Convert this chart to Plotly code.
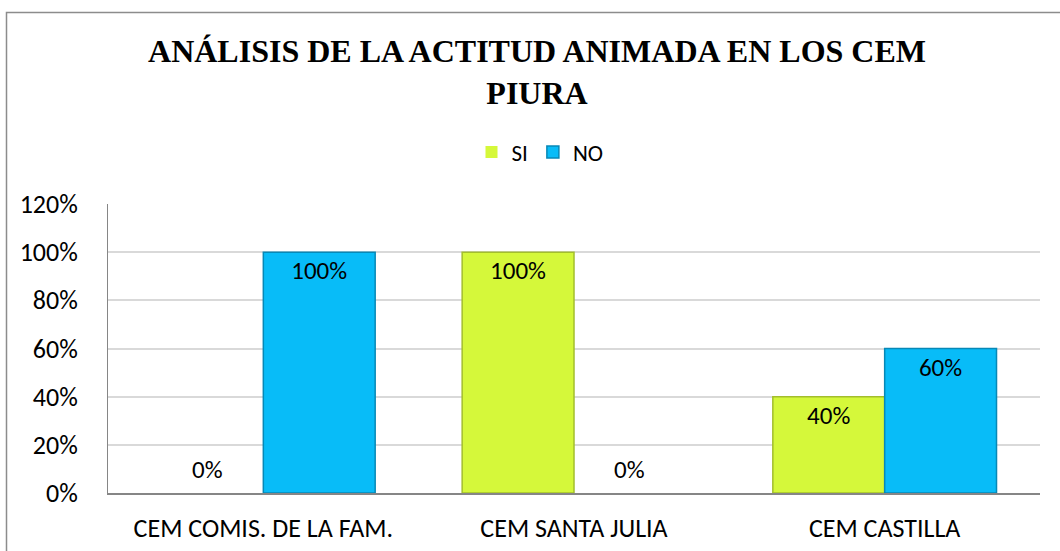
import plotly.graph_objects as go

categories = ["CEM COMIS. DE LA FAM.", "CEM SANTA JULIA", "CEM CASTILLA"]
si_values = [0.0, 1.0, 0.4]
no_values = [1.0, 0.0, 0.6]
tick_vals = [0, 0.2, 0.4, 0.6, 0.8, 1.0, 1.2]
tick_text = ["0%", "20%", "40%", "60%", "80%", "100%", "120%"]

W, H = 1060, 551
L, R, T, B = 108, 20, 204, 58
BODY_FONT = "Carlito, Calibri, Open Sans, Liberation Sans, sans-serif"
BARGAP = 0.28

def labels(vals):
    return [f"{round(v*100)}%" if v != 0 else "" for v in vals]

fig = go.Figure()
series = [
    ("SI", si_values, "#D5F83A", "#A3BE2C", -1),
    ("NO", no_values, "#08BCF8", "#0788B6", 1),
]
for name, vals, color, edge, side in series:
    fig.add_trace(go.Bar(
        name=name, x=categories, y=vals,
        text=labels(vals), textposition="inside",
        insidetextanchor="end",
        marker=dict(color=color,
                    line=dict(color=edge, width=[0 if v == 0 else 1.5 for v in vals])),
    ))

fig.update_traces(
    textfont=dict(family=BODY_FONT, size=25, color="#000000"),
    cliponaxis=False,
)

pw = W - L - R
ph = H - T - B
group_px = pw / len(categories)
half_bar_px = group_px * (1 - BARGAP) / 4

# zero-value labels
for name, vals, color, edge, side in series:
    for c, v in zip(categories, vals):
        if v == 0:
            fig.add_annotation(
                x=c, y=v, xref="x", yref="y", text=f"{round(v*100)}%",
                showarrow=False, xshift=side * half_bar_px, yshift=6,
                yanchor="bottom", font=dict(family=BODY_FONT, size=25, color="#000000"),
            )

fig.add_shape(
    type="rect", xref="paper", yref="paper",
    x0=(6.5 - L) / pw, x1=(W + 10 - L) / pw,
    y0=-(H + 10 - (H - B)) / ph, y1=(H - B - 12.5) / ph,
    line=dict(color="#8c8c8c", width=1.5), fillcolor="rgba(0,0,0,0)", layer="below",
)

fig.update_layout(
    width=W, height=H,
    margin=dict(l=L, r=R, t=T, b=B, autoexpand=False),
    paper_bgcolor="#ffffff", plot_bgcolor="#ffffff",
    barmode="group", bargap=BARGAP, bargroupgap=0,
    title=dict(
        text="<b>ANÁLISIS DE LA ACTITUD ANIMADA EN LOS CEM<br>PIURA</b>",
        font=dict(family="Liberation Serif, Times New Roman, serif", size=32, color="#000000"),
        xref="container", yref="container", x=537 / W, y=1 - 62 / H,
        xanchor="center", yanchor="middle",
    ),
    legend=dict(
        orientation="h", xref="paper", yref="paper",
        x=(540 - L) / pw, y=(H - B - 152) / ph, xanchor="center", yanchor="middle",
        font=dict(family=BODY_FONT, size=23, color="#000000"),
        itemwidth=30, tracegroupgap=0, bgcolor="rgba(0,0,0,0)",
    ),
    font=dict(family=BODY_FONT, size=24, color="#000000"),
    showlegend=True,
)
fig.update_xaxes(
    showline=True, linecolor="#868686", linewidth=1.5,
    tickfont=dict(size=26, color="#000000"), ticks="", ticklabelstandoff=11,
    showgrid=False, automargin=False,
)
fig.update_yaxes(
    range=[0, 1.2], tickvals=tick_vals, ticktext=tick_text,
    showline=True, linecolor="#868686", linewidth=1,
    gridcolor="#d9d9d9", gridwidth=1.5, zeroline=False,
    tickfont=dict(size=26, color="#000000"), ticks="", ticklabelstandoff=24,
    automargin=False,
)

fig.write_html("out.html", config={"displayModeBar": False},
               post_script="document.body.style.margin='0';")
